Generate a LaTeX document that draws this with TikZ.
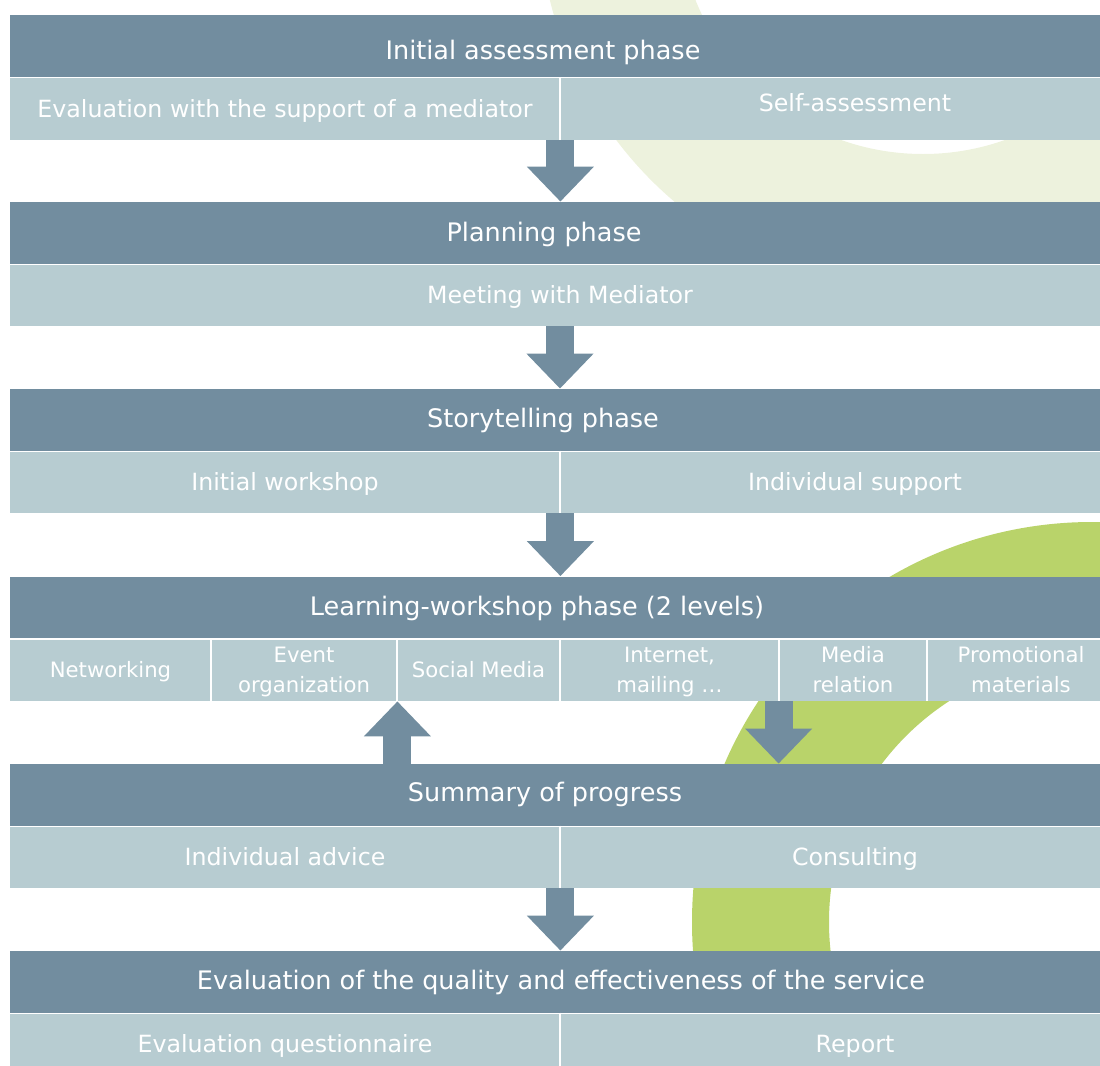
\documentclass[tikz,border=0pt]{standalone}
\usepackage{fontspec}
\setmainfont{DejaVu Sans}
\usetikzlibrary{arrows.meta}
\definecolor{hdr}{RGB}{114,141,159}
\definecolor{sub}{RGB}{183,204,209}
\definecolor{lime}{RGB}{185,211,106}
\definecolor{pale}{RGB}{237,242,221}

\begin{document}
\begin{tikzpicture}[x=0.5pt,y=-0.5pt,
    hbox/.style={fill=hdr, inner sep=0pt, minimum width=545pt, minimum height=31pt},
    htxt/.style={text=white, inner sep=0pt, font=\fontsize{12.75pt}{15pt}\selectfont, text height=9.3pt, text depth=0pt},
    cell/.style={fill=sub, inner sep=0pt, minimum height=31pt, text=white, font=\fontsize{11.85pt}{14pt}\selectfont, text height=8.65pt, text depth=0pt},
    small/.style={cell, align=center, font=\fontsize{10.6pt}{15pt}\selectfont, text height=7.74pt},
    small2/.style={small, text height=22.74pt},
    hsep/.style={white, line width=0.6pt},
    vsep/.style={white, line width=1pt},
    flow/.style={draw=hdr, line width=14pt, -{Triangle[width=32.5pt,length=17.5pt]}}]
    \useasboundingbox (0,0) rectangle (1100,1066);
    % rings in the back
    \fill[pale, even odd rule] (923,-91) circle[radius=192pt] (923,-91) circle[radius=122.5pt];
    \fill[lime, even odd rule] (1092,922) circle[radius=200pt] (1092,922) circle[radius=131.5pt];

    \node[hbox] (h1) at (555,46) {};
    \node[htxt] (t1) at (543,50) {Initial assessment phase};
    \node[cell, minimum width=275pt] (s1a) at (285,109) {Evaluation with the support of a mediator};
    \node[cell, minimum width=295pt, text depth=6pt] (s1b) at (855,109) {Self-assessment};

    \node[hbox] (h2) at (555,233) {};
    \node[htxt] (t2) at (544,232) {Planning phase};
    \node[cell, minimum width=550pt] (s2) at (560,295) {Meeting with Mediator};

    \node[hbox] (h3) at (555,420) {};
    \node[htxt] (t3) at (543,418) {Storytelling phase};
    \node[cell, minimum width=275pt] (s3a) at (285,482) {Initial workshop};
    \node[cell, minimum width=295pt] (s3b) at (855,482) {Individual support};

    \node[hbox] (h4) at (555,607.5) {};
    \node[htxt] (t4) at (537,606) {Learning-workshop phase (2 levels)};
    \node[small, minimum width=100.5pt] (n1) at (110.5,670) {Networking};
    \node[small2, minimum width=93pt] (n2) at (304,670) {Event\\organization};
    \node[small, minimum width=81.5pt] (n3) at (478.5,670) {Social Media};
    \node[small2, minimum width=109.5pt] (n4) at (669.5,670) {Internet,\\mailing \dots};
    \node[small2, minimum width=74pt] (n5) at (853,670) {Media\\relation};
    \node[small2, minimum width=94pt] (n6) at (1021,670) {Promotional\\materials};

    \node[hbox] (h5) at (555,795) {};
    \node[htxt] (t5) at (545,792) {Summary of progress};
    \node[cell, minimum width=275pt] (s5a) at (285,857) {Individual advice};
    \node[cell, minimum width=295pt] (s5b) at (855,857) {Consulting};

    \node[hbox] (h6) at (555,982) {};
    \node[htxt] (t6) at (561,980) {Evaluation of the quality and effectiveness of the service};
    \node[cell, minimum width=275pt] (s6a) at (285,1044) {Evaluation questionnaire};
    \node[cell, minimum width=295pt] (s6b) at (855,1044) {Report};

    % white dividers
    \foreach \h in {h1,h2,h3,h4,h5,h6}
        \draw[hsep] (\h.south west) -- (\h.south east);
    \foreach \c in {s1a,s3a,s5a,s6a,n1,n2,n3,n4,n5}
        \draw[vsep] (\c.north east) -- (\c.south east);

    % arrows
    \draw[flow] (s1a.south east) -- (h2.north -| s1a.south east);
    \draw[flow] (s2.south) -- (h3.north -| s2.south);
    \draw[flow] (s3a.south east) -- (h4.north -| s3a.south east);
    \draw[flow] (h5.north -| n2.south east) -- (n2.south east);
    \draw[flow] (n5.south west) -- (h5.north -| n5.south west);
    \draw[flow] (s5a.south east) -- (h6.north -| s5a.south east);
\end{tikzpicture}
\end{document}
